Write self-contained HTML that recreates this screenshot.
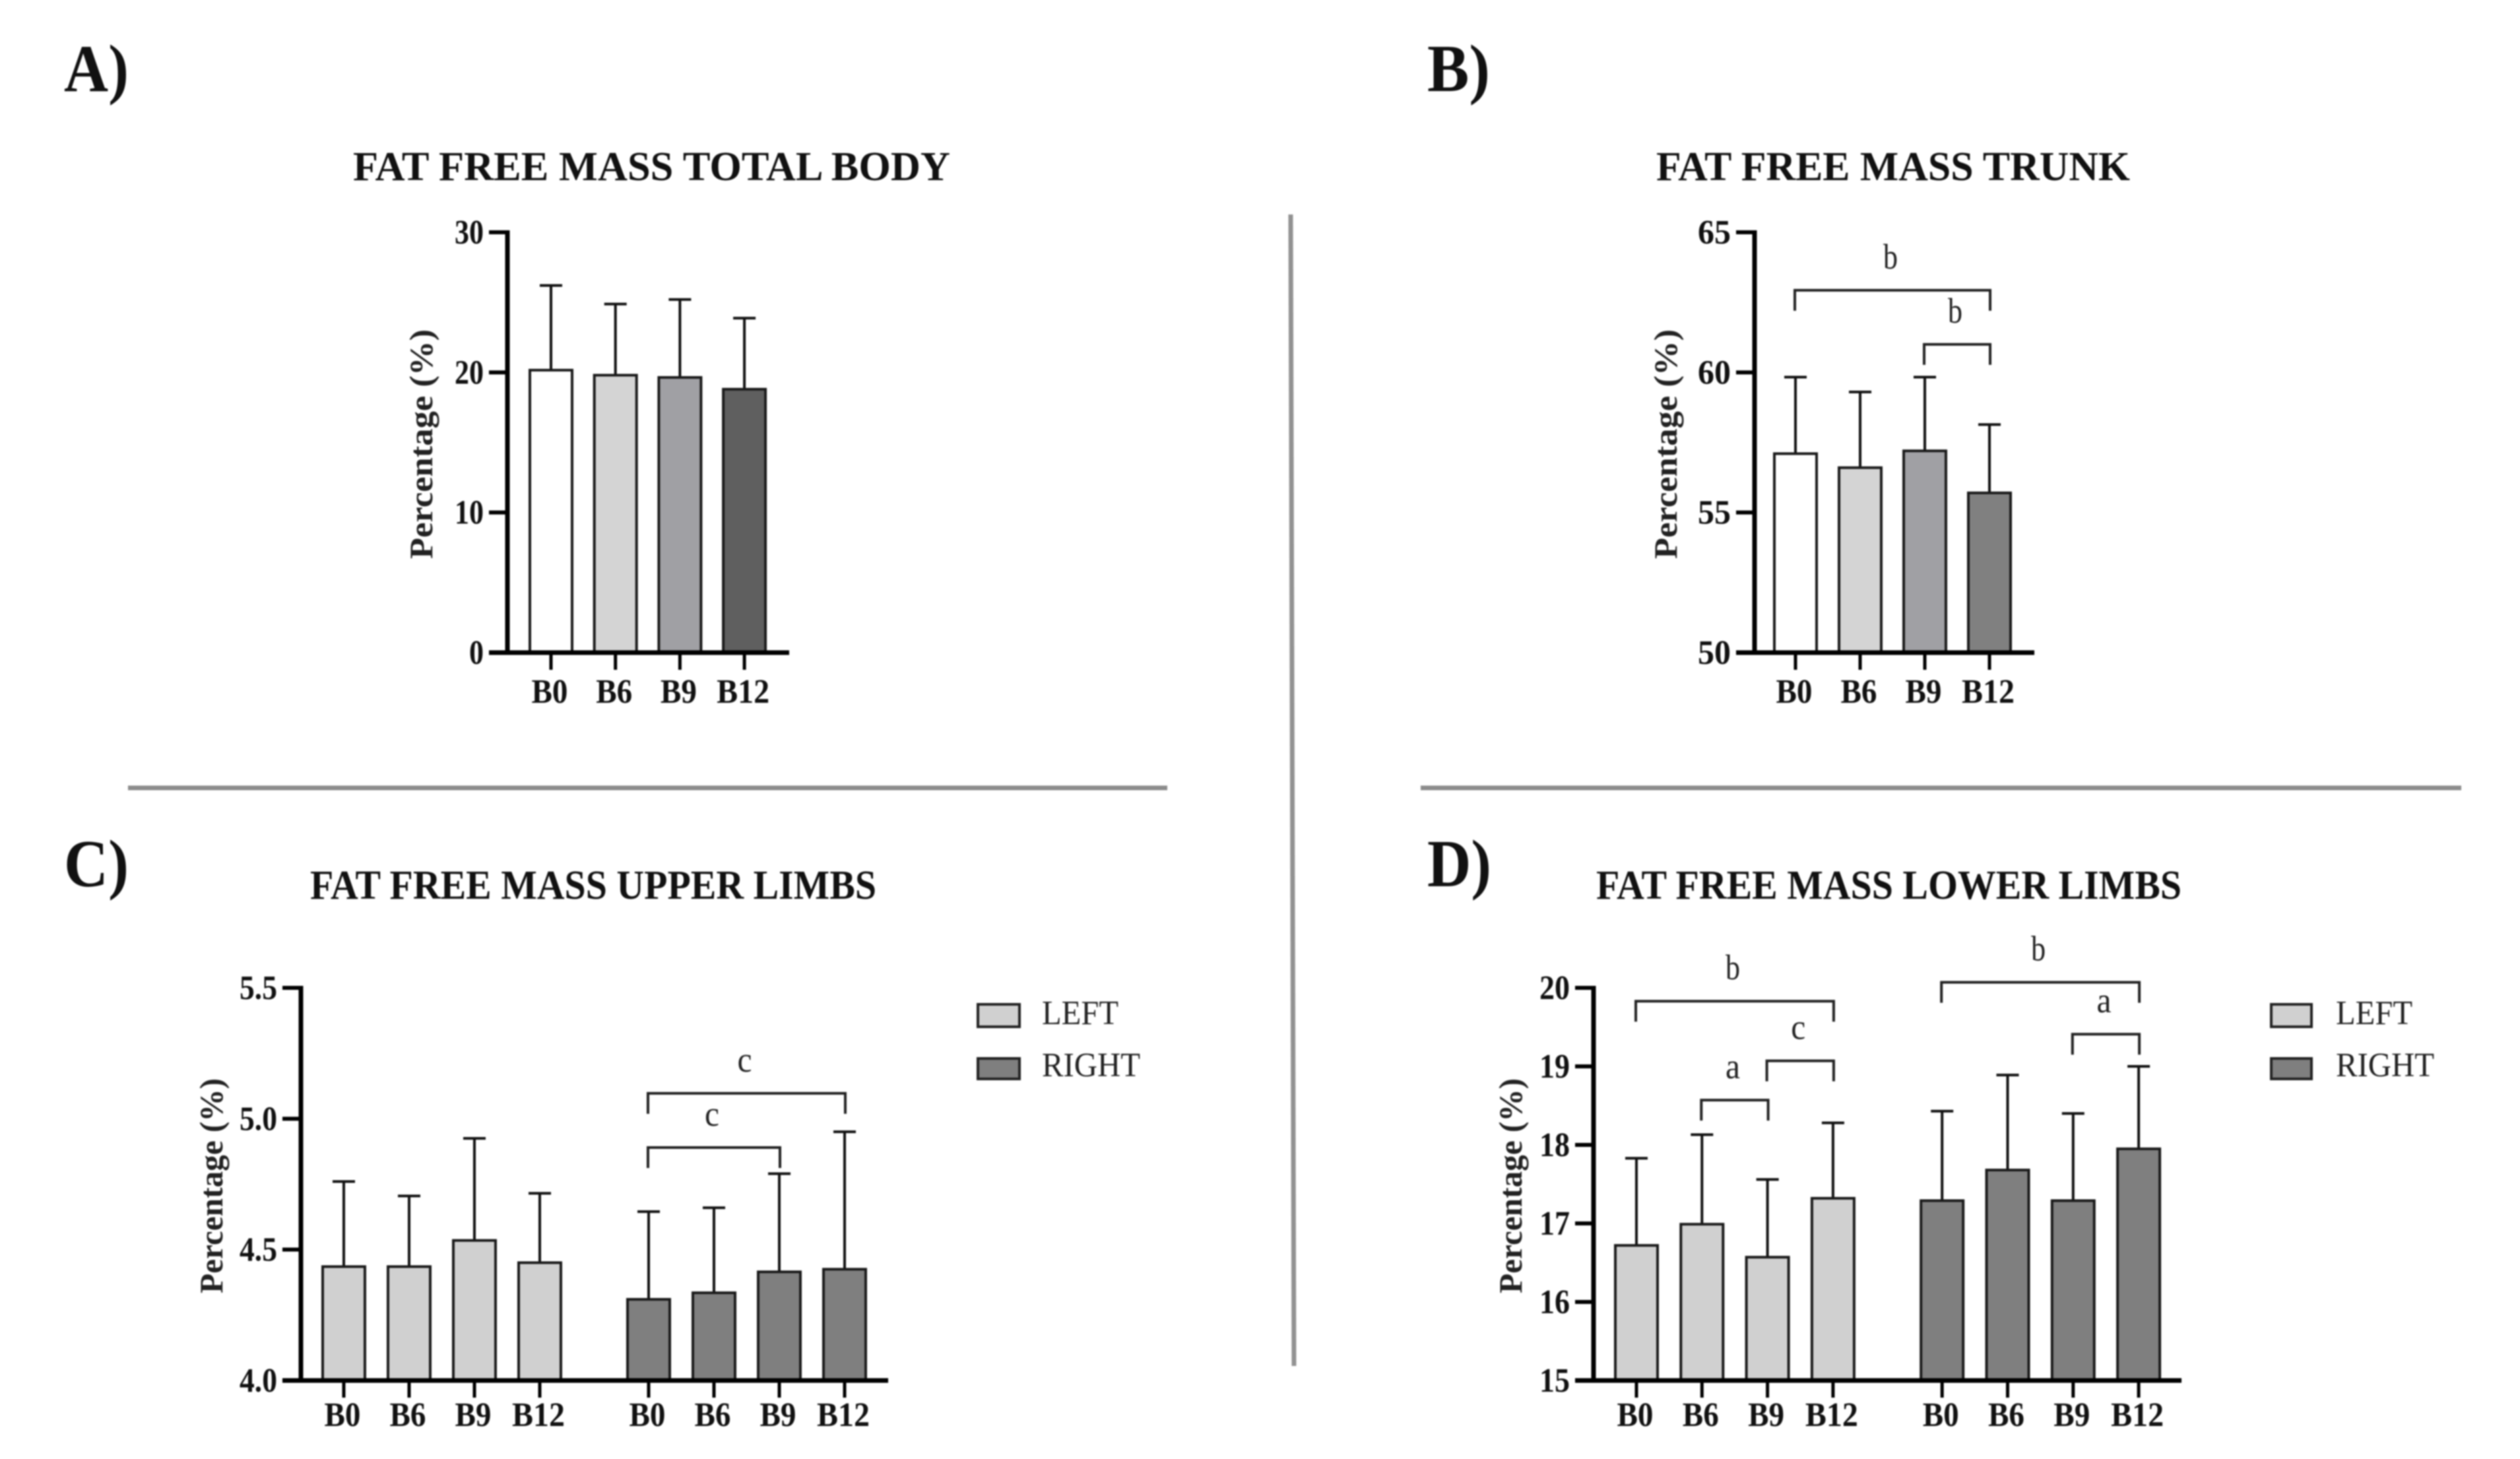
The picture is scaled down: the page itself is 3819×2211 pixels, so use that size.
<!DOCTYPE html>
<html lang="en">
<head>
<meta charset="utf-8">
<title>Fat free mass by body region</title>
<style>
html,body{margin:0;padding:0;background:#fff;}
body{width:3819px;height:2211px;overflow:hidden;}
svg{display:block;filter:blur(1px);}
text{font-family:"Liberation Serif",serif;fill:#111;}
.panel{font-weight:700;font-size:102px;}
.title{font-weight:700;font-size:62px;}
.ytitle{font-weight:700;font-size:50px;fill:#222;}
.tick{font-weight:700;font-size:52px;}
.legend{font-size:52px;fill:#222;}
.sig{font-size:54px;fill:#222;}
</style>
</head>
<body>
<svg id="figure" xmlns="http://www.w3.org/2000/svg" width="3819" height="2211" viewBox="0 0 3819 2211">
  <rect width="3819" height="2211" fill="#ffffff"/>

  <line x1="1956" y1="325" x2="1961" y2="2078" stroke="#929292" stroke-width="7" stroke-dasharray="1745 9999"/>
  <line x1="194" y1="1194" x2="1769" y2="1194" stroke="#8c8c8c" stroke-width="7"/>
  <line x1="2153" y1="1194" x2="3730" y2="1194" stroke="#8c8c8c" stroke-width="7"/>

  <text class="panel" x="97" y="138" textLength="98" lengthAdjust="spacingAndGlyphs">A)</text>
  <text class="panel" x="2163" y="138" textLength="95" lengthAdjust="spacingAndGlyphs">B)</text>
  <text class="panel" x="97" y="1343" textLength="98" lengthAdjust="spacingAndGlyphs">C)</text>
  <text class="panel" x="2163" y="1343" textLength="97" lengthAdjust="spacingAndGlyphs">D)</text>

  <text class="title" x="535" y="273" textLength="905" lengthAdjust="spacingAndGlyphs">FAT FREE MASS TOTAL BODY</text>
  <text class="title" x="2510" y="273" textLength="718" lengthAdjust="spacingAndGlyphs">FAT FREE MASS TRUNK</text>
  <text class="title" x="470" y="1362" textLength="858" lengthAdjust="spacingAndGlyphs">FAT FREE MASS UPPER LIMBS</text>
  <text class="title" x="2419" y="1362" textLength="887" lengthAdjust="spacingAndGlyphs">FAT FREE MASS LOWER LIMBS</text>

  <text class="ytitle" transform="translate(655,847) rotate(-90)" textLength="348" lengthAdjust="spacingAndGlyphs">Percentage (%)</text>
  <text class="ytitle" transform="translate(2541,847) rotate(-90)" textLength="348" lengthAdjust="spacingAndGlyphs">Percentage (%)</text>
  <text class="ytitle" transform="translate(337,1960) rotate(-90)" textLength="326" lengthAdjust="spacingAndGlyphs">Percentage (%)</text>
  <text class="ytitle" transform="translate(2306,1960) rotate(-90)" textLength="326" lengthAdjust="spacingAndGlyphs">Percentage (%)</text>

  <g>
    <rect x="1482" y="1522" width="63" height="34" fill="#d0d0d0" stroke="#222" stroke-width="4"/>
    <text class="legend" x="1579" y="1552" textLength="116" lengthAdjust="spacingAndGlyphs">LEFT</text>
    <rect x="1482" y="1604" width="63" height="31" fill="#7f7f7f" stroke="#222" stroke-width="4"/>
    <text class="legend" x="1579" y="1631" textLength="149" lengthAdjust="spacingAndGlyphs">RIGHT</text>
  </g>
  <g>
    <rect x="3442" y="1522" width="61" height="34" fill="#d0d0d0" stroke="#222" stroke-width="4"/>
    <text class="legend" x="3540" y="1552" textLength="116" lengthAdjust="spacingAndGlyphs">LEFT</text>
    <rect x="3442" y="1604" width="61" height="31" fill="#7f7f7f" stroke="#222" stroke-width="4"/>
    <text class="legend" x="3540" y="1631" textLength="149" lengthAdjust="spacingAndGlyphs">RIGHT</text>
  </g>
</svg>

<script>
// ---- Data ----
const singleCategories = ['B0', 'B6', 'B9', 'B12'];
const pairedCategories = ['B0', 'B6', 'B9', 'B12', 'B0', 'B6', 'B9', 'B12'];

const totalBodyValues = [20.16, 19.8, 19.64, 18.8];
const totalBodyErrorTops = [26.2, 24.88, 25.2, 23.87];
const totalBodyTicks = ['0', '10', '20', '30'];

const trunkValues = [57.1, 56.6, 57.2, 55.7];
const trunkErrorTops = [59.83, 59.3, 59.83, 58.14];
const trunkTicks = ['50', '55', '60', '65'];
const trunkBracketStart = [0, 2];
const trunkBracketEnd = [3, 3];
const trunkBracketLevel = [62.93, 61.0];
const trunkBracketLabel = ['b', 'b'];

const upperLimbValues = [4.435, 4.435, 4.535, 4.45, 4.31, 4.335, 4.415, 4.425];
const upperLimbErrorTops = [4.76, 4.705, 4.925, 4.715, 4.645, 4.66, 4.79, 4.95];
const upperLimbTicks = ['4.0', '4.5', '5.0', '5.5'];
const upperLimbBracketStart = [4, 4];
const upperLimbBracketEnd = [7, 6];
const upperLimbBracketLevel = [5.097, 4.89];
const upperLimbBracketLabel = ['c', 'c'];

const lowerLimbValues = [16.72, 16.99, 16.57, 17.32, 17.29, 17.68, 17.29, 17.95];
const lowerLimbErrorTops = [17.83, 18.13, 17.56, 18.28, 18.43, 18.89, 18.4, 19.0];
const lowerLimbTicks = ['15', '16', '17', '18', '19', '20'];
const lowerLimbBracketStart = [0, 2, 1, 4, 6];
const lowerLimbBracketEnd = [3, 3, 2, 7, 7];
const lowerLimbBracketLevel = [19.83, 19.07, 18.57, 20.07, 19.41];
const lowerLimbBracketLabel = ['b', 'c', 'a', 'b', 'a'];

// ---- Styling per bar ----
const fillsA = ['#ffffff', '#d4d4d4', '#a0a0a4', '#5f5f5f'];
const fillsB = ['#ffffff', '#d4d4d4', '#a0a0a4', '#808080'];
const fillsPaired = ['#d0d0d0', '#d0d0d0', '#d0d0d0', '#d0d0d0', '#7f7f7f', '#7f7f7f', '#7f7f7f', '#7f7f7f'];

const svg = document.getElementById('figure');
const NS = 'http://www.w3.org/2000/svg';

function mk(parent, tag, attrs, text) {
  const node = document.createElementNS(NS, tag);
  for (const k in attrs) node.setAttribute(k, attrs[k]);
  if (text !== undefined) node.textContent = text;
  parent.appendChild(node);
  return node;
}

function drawChart(cfg) {
  const yMin = parseFloat(cfg.ticks[0]);
  const yMax = parseFloat(cfg.ticks[cfg.ticks.length - 1]);
  const yScale = v => cfg.bottom - (v - yMin) / (yMax - yMin) * (cfg.bottom - cfg.top);
  const xScale = i => cfg.firstX + i * cfg.step + (i >= 4 ? cfg.groupGap : 0);

  const g = mk(svg, 'g', {});
  
  

  cfg.values.forEach((v, i) => {
    const cx = xScale(i);
    const stem = mk(g, 'line', { x1: cx, x2: cx, y1: yScale(v), y2: yScale(cfg.errorTops[i]), stroke: '#111', 'stroke-width': 4 });
    
    
    const cap = mk(g, 'line', { x1: cx - 17, x2: cx + 17, y1: yScale(cfg.errorTops[i]), y2: yScale(cfg.errorTops[i]), stroke: '#111', 'stroke-width': 4 });
    
    
    const bar = mk(g, 'rect', { x: cx - 32, y: yScale(v), width: 64, height: yScale(yMin) - yScale(v), fill: cfg.fills[i], stroke: '#1a1a1a', 'stroke-width': 4 });
    
    
    const tick = mk(g, 'line', { x1: cx, x2: cx, y1: cfg.bottom, y2: cfg.bottom + 26, stroke: '#000', 'stroke-width': 5 });
    
    
    const label = mk(g, 'text', { class: 'tick', x: cx - 2, y: cfg.bottom + cfg.xLabelOffset, 'text-anchor': 'middle', textLength: cfg.categories[i].length > 2 ? 80 : 55, lengthAdjust: 'spacingAndGlyphs' }, cfg.categories[i]);
    
    
  });

  const yAxis = mk(g, 'line', { x1: cfg.axisX, x2: cfg.axisX, y1: cfg.top - 3, y2: cfg.bottom + 3, stroke: '#000', 'stroke-width': 7 });
  
  
  const xAxis = mk(g, 'line', { x1: cfg.axisX - 28, x2: cfg.axisRight, y1: cfg.bottom, y2: cfg.bottom, stroke: '#000', 'stroke-width': 7 });
  
  

  cfg.ticks.forEach(t => {
    const ty = yScale(parseFloat(t));
    const tick = mk(g, 'line', { x1: cfg.axisX - 28, x2: cfg.axisX, y1: ty, y2: ty, stroke: '#000', 'stroke-width': 6 });
    
    
    const label = mk(g, 'text', { class: 'tick', x: cfg.axisX - 36, y: ty + 17, 'text-anchor': 'end', textLength: t.length * cfg.tickCharWidth, lengthAdjust: 'spacingAndGlyphs' }, t);
    
    
  });

  (cfg.bracketLevel || []).forEach((level, i) => {
    const a = xScale(cfg.bracketStart[i]) - 1;
    const b = xScale(cfg.bracketEnd[i]) + 1;
    const by = yScale(level);
    const path = mk(g, 'path', { d: 'M' + a + ' ' + (by + 31) + 'V' + by + 'H' + b + 'V' + (by + 31), fill: 'none', stroke: '#222', 'stroke-width': 4 });
    
    
    const sig = mk(g, 'text', { class: 'sig', x: (a + b) / 2 - 3, y: by - 33, 'text-anchor': 'middle', textLength: 22, lengthAdjust: 'spacingAndGlyphs' }, cfg.bracketLabel[i]);
    
    
  });
}

drawChart({
  name: 'chart-total-body', categories: singleCategories, values: totalBodyValues, errorTops: totalBodyErrorTops,
  ticks: totalBodyTicks, fills: fillsA, tickCharWidth: 22,
  top: 352, bottom: 989, axisX: 769, axisRight: 1196, firstX: 835, step: 97.7, groupGap: 0, xLabelOffset: 76
});
drawChart({
  name: 'chart-trunk', categories: singleCategories, values: trunkValues, errorTops: trunkErrorTops,
  ticks: trunkTicks, fills: fillsB, tickCharWidth: 25,
  bracketStart: trunkBracketStart, bracketEnd: trunkBracketEnd, bracketLevel: trunkBracketLevel, bracketLabel: trunkBracketLabel,
  top: 352, bottom: 989, axisX: 2659, axisRight: 3083, firstX: 2721, step: 98, groupGap: 0, xLabelOffset: 76
});
drawChart({
  name: 'chart-upper-limbs', categories: pairedCategories, values: upperLimbValues, errorTops: upperLimbErrorTops,
  ticks: upperLimbTicks, fills: fillsPaired, tickCharWidth: 19,
  bracketStart: upperLimbBracketStart, bracketEnd: upperLimbBracketEnd, bracketLevel: upperLimbBracketLevel, bracketLabel: upperLimbBracketLabel,
  top: 1497, bottom: 2092, axisX: 456, axisRight: 1346, firstX: 521, step: 99, groupGap: 66, xLabelOffset: 69
});
drawChart({
  name: 'chart-lower-limbs', categories: pairedCategories, values: lowerLimbValues, errorTops: lowerLimbErrorTops,
  ticks: lowerLimbTicks, fills: fillsPaired, tickCharWidth: 23,
  bracketStart: lowerLimbBracketStart, bracketEnd: lowerLimbBracketEnd, bracketLevel: lowerLimbBracketLevel, bracketLabel: lowerLimbBracketLabel,
  top: 1497, bottom: 2092, axisX: 2415, axisRight: 3306, firstX: 2480, step: 99.3, groupGap: 66, xLabelOffset: 69
});
</script>
</body>
</html>
